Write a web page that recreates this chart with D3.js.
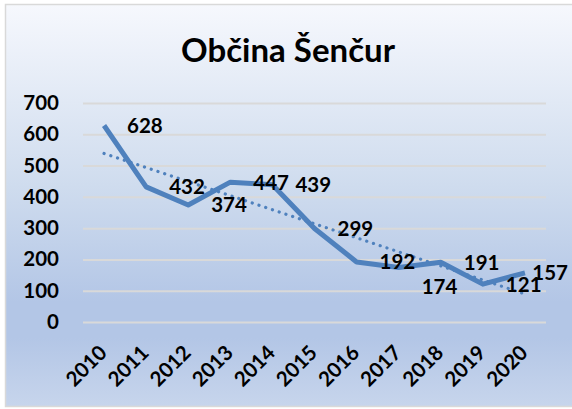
<!DOCTYPE html>
<html>
<head>
<meta charset="utf-8">
<script src="https://cdn.jsdelivr.net/npm/d3@7"></script>
<style>
    body { margin: 0; background: #fff; }
    svg { display: block; }
    text { font-family: Lato, "Open Sans", sans-serif; font-weight: bold; fill: #000; }
</style>
</head>
<body>
<div id="chart"></div>
<script>
var title = "Občina Šenčur";
var years = ["2010", "2011", "2012", "2013", "2014", "2015", "2016", "2017", "2018", "2019", "2020"];
var values = [628, 432, 374, 447, 439, 299, 192, 174, 191, 121, 157];
var yTicks = [0, 100, 200, 300, 400, 500, 600, 700];

var W = 572, H = 409
    , margin = {top: 103, right: 26, bottom: 87, left: 83}
    , color = "#4f81bd";

var svg = d3.select("#chart")
    .append("svg")
    .attr("width", W)
    .attr("height", H);

var grad = svg.append("defs")
    .append("linearGradient")
    .attr("id", "bg")
    .attr("x1", 0).attr("y1", 0)
    .attr("x2", 0).attr("y2", 1);

[[0, "#f6f8fd"], [0.45, "#cfdcee"], [0.74, "#b3c6e6"], [0.83, "#b3c6e6"], [1, "#c7d5ec"]]
    .forEach(s => grad.append("stop").attr("offset", s[0]).attr("stop-color", s[1]));

svg.append("rect")
    .attr("x", 5.5).attr("y", 4.5)
    .attr("width", W).attr("height", 402)
    .attr("fill", "url(#bg)")
    .attr("stroke", "#d9d9d9")
    .attr("stroke-width", 1.5);

svg.append("text")
    .attr("x", 288)
    .attr("y", 62)
    .attr("text-anchor", "middle")
    .style("font-size", "33px")
    .text(title);

var x = d3.scalePoint()
    .domain(years)
    .range([margin.left, W - margin.right])
    .padding(0.5);

var y = d3.scaleLinear()
    .domain([0, 700])
    .range([H - margin.bottom, margin.top]);

// gridlines + y labels
var yAxis = d3.axisLeft(y)
    .tickValues(yTicks)
    .tickSizeInner(-(W - margin.left - margin.right))
    .tickSizeOuter(0)
    .tickPadding(24);

var gy = svg.append("g")
    .attr("class", "axis axis--y")
    .attr("transform", "translate(" + margin.left + ",0)")
    .call(yAxis);

gy.select(".domain").remove();
gy.selectAll(".tick line")
    .attr("stroke", "#d9d9d9")
    .attr("stroke-width", 2);
gy.selectAll(".tick text")
    .attr("fill", "#000")
    .style("font-size", "20.5px")
    .style("font-family", "Lato, sans-serif")
    .style("font-weight", "bold");

// x labels, rotated
svg.append("g")
    .attr("class", "axis axis--x")
    .selectAll("text")
    .data(years)
    .enter()
    .append("text")
    .attr("text-anchor", "end")
    .attr("transform", d => "translate(" + (x(d) + 4) + ",354) rotate(-45)")
    .style("font-size", "20.5px")
    .text(d => d);

// linear trend
var pts = values.map((v, i) => [i, v]);
var n = pts.length
    , mx = d3.mean(pts, p => p[0])
    , my = d3.mean(pts, p => p[1])
    , slope = d3.sum(pts, p => (p[0] - mx) * (p[1] - my)) / d3.sum(pts, p => (p[0] - mx) * (p[0] - mx))
    , icpt = my - slope * mx;

var trend = [0, n - 1].map(i => ({year: years[i], v: icpt + slope * i}));

var line_gen = d3.line()
    .x(d => x(d.year))
    .y(d => y(d.v));

var series = years.map((yr, i) => ({year: yr, v: values[i]}));

svg.append("path")
    .attr("class", "line")
    .attr("d", line_gen(series))
    .attr("fill", "none")
    .attr("stroke", color)
    .attr("stroke-width", 5)
    .attr("stroke-linejoin", "round");

svg.append("path")
    .attr("class", "trend")
    .attr("d", line_gen(trend))
    .attr("fill", "none")
    .attr("stroke", color)
    .attr("stroke-width", 3.2)
    .attr("stroke-linecap", "round")
    .attr("stroke-dasharray", "0.1 7");

// data labels, right of the points
var nudge = {"2017": 19};

svg.append("g")
    .attr("class", "labels")
    .selectAll("text")
    .data(series)
    .enter()
    .append("text")
    .attr("x", d => x(d.year) + 23)
    .attr("y", d => y(d.v) + (nudge[d.year] || 0))
    .attr("dy", "0.36em")
    .style("font-size", "20.5px")
    .text(d => d.v)
    .each(function() {
        var t = d3.select(this)
            , len = this.getComputedTextLength();
        if (+t.attr("x") + len > W - 4) t.attr("x", W - 4 - len);
    });
</script>
</body>
</html>
